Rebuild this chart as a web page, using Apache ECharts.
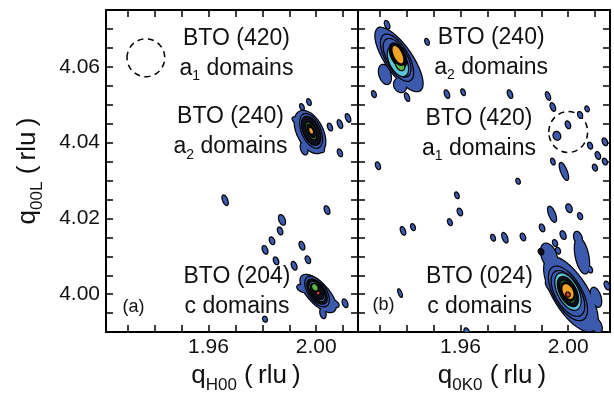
<!DOCTYPE html>
<html><head><meta charset="utf-8">
<script src="https://cdn.jsdelivr.net/npm/echarts@6/dist/echarts.min.js"></script>
<style>html,body{margin:0;padding:0;background:#fff;overflow:hidden;width:614px;height:399px}#c{width:614px;height:399px;display:block}</style>
</head><body><div id="c"></div>
<script>
// ---- axes ----
const xRange = [1.922, 2.0155];
const yRange = [3.99, 4.075];
const xTicks = [1.93, 1.94, 1.95, 1.96, 1.97, 1.98, 1.99, 2.00, 2.01];
const xLabels = [1.96, 2.00];
const yTicks = [3.995, 4.000, 4.005, 4.010, 4.015, 4.020, 4.025, 4.030, 4.035, 4.040, 4.045, 4.050, 4.055, 4.060, 4.065, 4.070];
const yLabels = [4.00, 4.02, 4.04, 4.06];

// ---- contour blobs: [qx, qz, half-axis dqx, half-axis dqz, width ratio, contour level] ----
const leftSpots = [
  [1.9947,4.0494,.00041,-.00073,.5,0],[1.9973,4.0507,.00041,-.00073,.5,0],
  [2.0051,4.0441,.00048,-.00085,.5,0],[2.0088,4.0449,.00055,-.00097,.45,0],
  [2.0118,4.0465,.00055,-.00097,.45,0],[2.0088,4.0373,.00048,-.00085,.5,0],
  [1.9662,4.0248,.00069,-.00122,.4,0],[2.0040,4.0222,.00055,-.00097,.5,0],
  [1.9873,4.0196,.00069,-.00122,.5,0],[1.9866,4.0167,.00048,-.00085,.55,0],
  [1.9836,4.0141,.00048,-.00085,.55,0],[1.9810,4.0117,.00055,-.00097,.5,0],
  [1.9851,4.0088,.00048,-.00085,.55,0],[1.9947,4.0128,.00055,-.00097,.5,0],
  [1.9969,4.0091,.00048,-.00085,.55,0],[1.9918,4.0075,.00055,-.00097,.5,0],
  [2.0107,3.9976,.00055,-.00097,.5,0],[1.9810,3.9934,.00034,-.00061,.7,0]
];
const leftPeak240 = [
  [1.9977,4.0428,.00386,-.00536,.55,0],[1.9932,4.0457,.00189,-.00078,.45,0],
  [1.9955,4.0384,.00067,-.00149,.5,0],[2.0014,4.0389,.00111,-.00136,.5,0],
  [1.9981,4.0431,.00267,-.00434,.5,1],[1.9981,4.0431,.00223,-.00361,.5,3],
  [1.9981,4.0431,.00134,-.00217,.4,6],[1.9981,4.0431,.00104,-.00167,.35,7],
  [1.9981,4.0431,.00045,-.00073,.5,8]
];
const leftPeak204 = [
  [2.0007,4.0002,.00594,-.00458,.42,0],[1.9955,4.0015,.00249,-.00052,.5,0],
  [2.0025,3.9950,.00037,-.00128,.5,0],[2.0062,3.9976,.0020,-.00071,.5,0],
  [2.0003,4.0007,.00349,-.00369,.5,1],[2.0003,4.0007,.00286,-.00303,.5,3],
  [2.0003,4.0007,.00223,-.00238,.5,4],[2.0003,4.0007,.00186,-.00196,.5,5],
  [1.9995,4.0018,.0007,-.00076,.7,6],[2.0007,4.0003,.0003,-.0003,1,9]
];
const rightSpots = [
  [1.9328,4.0711,.00055,-.00097,.45,0],[1.9476,4.0666,.00041,-.00073,.5,0],
  [1.9279,4.0528,.00041,-.00073,.55,0],[1.9402,4.0520,.00055,-.00097,.4,0],
  [1.9550,4.0528,.00055,-.00097,.45,0],[1.9610,4.0533,.00041,-.00073,.5,0],
  [1.9784,4.0528,.00055,-.00097,.45,0],[1.9925,4.0523,.00055,-.00097,.4,0],
  [1.9943,4.0494,.00055,-.00097,.45,0],[2.0044,4.0473,.00041,-.00073,.6,0],
  [2.0070,4.0489,.00034,-.00061,.6,0],[1.9958,4.0418,.00055,-.00097,.8,0],
  [1.9999,4.0447,.00048,-.00085,.55,0],[2.0081,4.0392,.00041,-.00073,.6,0],
  [2.0136,4.0402,.00048,-.00085,.55,0],[2.0110,4.0366,.00048,-.00085,.55,0],
  [2.0136,4.0350,.00041,-.00073,.6,0],[1.9943,4.0350,.00041,-.00073,.5,0],
  [1.9984,4.0324,.00123,-.00219,.3,0],[2.0099,4.0334,.00041,-.00073,.6,0],
  [1.9294,4.0339,.00048,-.00085,.5,0],[1.9814,4.0298,.00034,-.00061,.6,0],
  [1.9587,4.0261,.00041,-.00073,.5,0],[1.9598,4.0217,.00048,-.00085,.55,0],
  [1.9561,4.0190,.00041,-.00073,.55,0],[1.9424,4.0177,.00041,-.00073,.55,0],
  [1.9387,4.0167,.00055,-.00097,.45,0],[1.9721,4.0149,.00041,-.00073,.55,0],
  [1.9765,4.0149,.00069,-.00122,.4,0],[1.9832,4.0151,.00048,-.00085,.55,0],
  [1.9903,4.0175,.00048,-.00085,.55,0],[1.9940,4.0211,.0011,-.00195,.35,0],
  [2.0003,4.0227,.00055,-.00097,.6,0],[2.0044,4.0206,.00041,-.00073,.6,0],
  [1.9376,4.0003,.00055,-.00097,.3,0],[1.9951,4.0135,.00041,-.00073,.6,0],
  [1.9981,4.0156,.00055,-.00097,.55,0],[1.9962,4.0115,.00041,-.00073,.6,0],
  [2.0081,4.0065,.00041,-.00073,.6,0],[2.0144,4.0023,.00055,-.00097,.5,0],
  [1.9624,3.9900,.00055,-.00097,.5,0]
];
const rightPeak240 = [
  [1.9372,4.0619,.00779,-.00811,.35,0],[1.9320,4.0580,.00111,-.00248,.55,0],
  [1.9376,4.0551,.0013,-.0016,.8,0],[1.9428,4.0588,.00148,-.00212,.5,0],
  [1.9313,4.0685,.00178,-.00167,.6,0],
  [1.9365,4.0624,.00482,-.00591,.42,1],[1.9365,4.0624,.0039,-.00478,.45,2],
  [1.9368,4.0614,.00267,-.00371,.5,4],[1.9368,4.0630,.00215,-.00303,.5,5],
  [1.9376,4.0606,.0010,-.00141,.6,6],[1.9368,4.0632,.00171,-.00262,.48,7],
  [1.9368,4.0632,.00148,-.00225,.42,8]
];
const rightPeak024 = [
  [2.0010,4.0000,.00835,-.00954,.4,0],[1.9929,4.0101,.0017,-.00319,.55,0],
  [2.0051,4.0101,.00134,-.0046,.35,0],[2.0036,4.0149,.00067,-.00149,.6,0],
  [2.0103,3.9992,.00111,-.00248,.45,0],[1.9940,4.0023,.00178,-.00167,.6,0],
  [2.0103,3.9918,.00148,-.00183,.6,0],[1.9899,4.0112,.00045,-.00063,.8,3],
  [1.9999,4.0002,.00557,-.00683,.45,1],[1.9999,4.0002,.00464,-.00569,.48,2],
  [1.9999,4.0007,.00334,-.00465,.5,4],[1.9999,4.0007,.00267,-.00371,.5,5],
  [1.9999,4.0007,.0020,-.0028,.5,6],[1.9999,4.0007,.00167,-.00233,.55,7],
  [1.9999,4.0007,.00134,-.00186,.6,8],[1.9999,3.9999,.0003,-.0005,.8,9]
];
// dashed circles marking the missing peaks: [qx, qz, radius qx, radius qz]
const leftCircle = [[1.9368, 4.0624, 0.0070, 0.0050]];
const rightCircle = [[2.0000, 4.0428, 0.0072, 0.0054]];

// annotations
const leftNotes = [
  {pos:[1.9704,4.0635], title:'BTO (420)', dom:'a', sub:'1'},
  {pos:[1.9682,4.0428], title:'BTO (240)', dom:'a', sub:'2'},
  {pos:[1.9706,4.0006], title:'BTO (204)', dom:'c', sub:''}
];
const rightNotes = [
  {pos:[1.9714,4.0638], title:'BTO (240)', dom:'a', sub:'2'},
  {pos:[1.9669,4.0424], title:'BTO (420)', dom:'a', sub:'1'},
  {pos:[1.9671,4.0006], title:'BTO (024)', dom:'c', sub:''}
];
const panelTags = [{pos:[1.9322,3.9965], text:'(a)'}, {pos:[1.9315,3.9971], text:'(b)'}];

// level colours: blue, blue rings, dense dark lines, cyan, dark, green, dark, orange, red
const levelColors = ['#3c5aae','#3c5aae','#3c5aae','#10101c','#5ac4d8','#10101c','#5bb646','#10101c','#f4a326','#d53f1f'];
const FONT = '"Liberation Sans", Arial, Helvetica, sans-serif';
const INK = '#111';

function blobRender(params, api){
  const x=api.value(0), y=api.value(1), hx=api.value(2), hy=api.value(3), r=api.value(4), lv=api.value(5);
  const c=api.coord([x,y]); const t=api.coord([x+hx,y+hy]);
  const ux=t[0]-c[0], uy=t[1]-c[1]; const vx=-uy*r, vy=ux*r;
  const pts=[];
  for(let i=0;i<40;i++){const a=i/40*2*Math.PI; pts.push([c[0]+ux*Math.cos(a)+vx*Math.sin(a), c[1]+uy*Math.cos(a)+vy*Math.sin(a)]);}
  return {type:'group', children:[
    {type:'polygon', shape:{points:pts}, style:{fill:'none', stroke:'#000', lineWidth:2.4}, z2:lv*2},
    {type:'polygon', shape:{points:pts}, style:{fill:levelColors[lv], stroke:null}, z2:lv*2+1}
  ]};
}
function circleRender(params, api){
  const c=api.coord([api.value(0), api.value(1)]);
  const s=api.size([api.value(2), api.value(3)]);
  return {type:'ellipse', shape:{cx:c[0], cy:c[1], rx:s[0], ry:s[1]},
    style:{fill:'none', stroke:'#000', lineWidth:1.5, lineDash:[6,4.5]}};
}
const nameRich = {
  q:{fontSize:26, lineHeight:36, fontFamily:FONT, color:INK},
  s:{fontSize:17, lineHeight:17, fontFamily:FONT, color:INK, verticalAlign:'bottom'}
};
function xAxis(g, pos, show, name, pad){
  return {type:'value', gridIndex:g, position:pos, min:xRange[0], max:xRange[1],
    axisLine:{show:true, onZero:false, lineStyle:{color:'#000', width:2}},
    axisTick:{show:true, inside:true, length:7, lineStyle:{color:'#000', width:1.5}, customValues:xTicks},
    axisLabel:{show:show, customValues:xLabels, formatter:v=>v.toFixed(2), fontSize:21, color:INK, fontFamily:FONT, margin:5},
    splitLine:{show:false},
    name:name||'', nameLocation:'middle', nameGap:25,
    nameTextStyle:{padding:[0,0,0,pad||0], rich:nameRich}
  };
}
function yAxis(g, pos, show, name){
  return {type:'value', gridIndex:g, position:pos, min:yRange[0], max:yRange[1],
    axisLine:{show:true, onZero:false, lineStyle:{color:'#000', width:2}},
    axisTick:{show:true, inside:true, length:7, lineStyle:{color:'#000', width:1.5}, customValues:yTicks},
    axisLabel:{show:show, customValues:yLabels, formatter:v=>v.toFixed(2), fontSize:21, color:INK, fontFamily:FONT, margin:6},
    splitLine:{show:false},
    name:name||'', nameLocation:'middle', nameGap:60, nameRotate:90,
    nameTextStyle:{rich:nameRich}
  };
}

function noteSeries(notes, tag, xi, yi){
  const data = notes.map(n=>({value:n.pos,
    label:{formatter:'{t|'+n.title+'}\n{t|'+n.dom+'}'+(n.sub?'{s|'+n.sub+'}':'')+'{t| domains}'}}));
  data.push({value:tag.pos, label:{formatter:'{p|'+tag.text+'}'}});
  return {type:'scatter', xAxisIndex:xi, yAxisIndex:yi, symbolSize:1, z:10,
    itemStyle:{color:'rgba(255,255,255,0)'}, silent:true, data:data,
    label:{show:true, position:'inside', align:'center', verticalAlign:'middle',
      color:INK, textBorderWidth:0, textBorderColor:'rgba(0,0,0,0)', opacity:1, rich:{
      t:{fontSize:23, lineHeight:30, fontFamily:FONT, color:INK, textBorderWidth:0},
      s:{fontSize:14, lineHeight:14, verticalAlign:'bottom', fontFamily:FONT, color:INK, textBorderWidth:0},
      p:{fontSize:18, fontFamily:FONT, color:INK, textBorderWidth:0}}}};
}

const chart = echarts.init(document.getElementById('c'), null, {renderer:'canvas', width:614, height:399});
chart.setOption({
  animation:false,
  backgroundColor:'#fff',
  grid:[{left:106, top:10, width:252, height:325}, {left:358, top:10, width:252, height:325}],
  xAxis:[
    xAxis(0,'bottom',true,'{q|q}{s|H00}{q| (\u2009rlu\u2009)}',28),
    xAxis(0,'top',false),
    xAxis(1,'bottom',true,'{q|q}{s|0K0}{q| (\u2009rlu\u2009)}',16),
    xAxis(1,'top',false)
  ],
  yAxis:[
    yAxis(0,'left',true,'{q|q}{s|00L}{q| (\u2009rlu\u2009)}'),
    yAxis(0,'right',false),
    yAxis(1,'left',false),
    yAxis(1,'right',false)
  ],
  series:[
    {type:'custom', xAxisIndex:0, yAxisIndex:0, clip:true, renderItem:blobRender, data:[...leftSpots, ...leftPeak240, ...leftPeak204], silent:true},
    {type:'custom', xAxisIndex:2, yAxisIndex:2, clip:true, renderItem:blobRender, data:[...rightSpots, ...rightPeak240, ...rightPeak024], silent:true},
    {type:'custom', xAxisIndex:0, yAxisIndex:0, clip:true, renderItem:circleRender, data:leftCircle, silent:true},
    {type:'custom', xAxisIndex:2, yAxisIndex:2, clip:true, renderItem:circleRender, data:rightCircle, silent:true},
    noteSeries(leftNotes, panelTags[0], 0, 0),
    noteSeries(rightNotes, panelTags[1], 2, 2)
  ]
});
</script></body></html>
